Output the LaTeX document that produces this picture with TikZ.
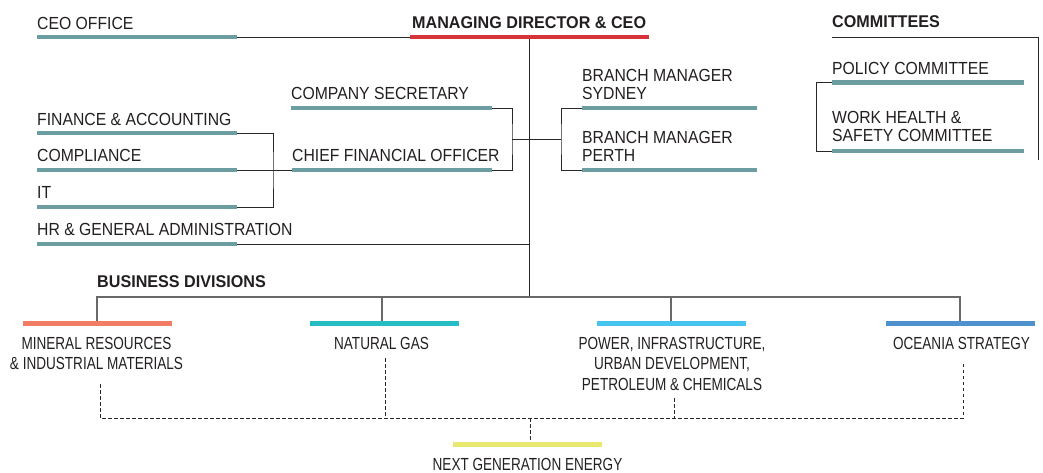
\documentclass[tikz,border=0pt]{standalone}
\usepackage{fontspec}
\setmainfont{Liberation Sans}
\newfontfamily\topf{Liberation Sans}[FakeStretch=0.9]
\newfontfamily\boldf{Liberation Sans Bold}[FakeStretch=0.95]
\newfontfamily\divf{Liberation Sans}[FakeStretch=0.775]
\definecolor{teal}{RGB}{108,157,160}
\definecolor{mdred}{RGB}{214,52,58}
\definecolor{salmon}{RGB}{243,124,101}
\definecolor{ngas}{RGB}{38,188,196}
\definecolor{power}{RGB}{68,196,238}
\definecolor{ocean}{RGB}{78,146,205}
\definecolor{yel}{RGB}{233,233,112}
\definecolor{txt}{RGB}{35,31,32}
\definecolor{linec}{RGB}{40,40,40}
\definecolor{divline}{RGB}{105,105,105}
\tikzset{
  bar/.style={line width=4.5pt, line cap=butt},
  conn/.style={line width=0.9pt, draw=linec},
  divconn/.style={line width=1.3pt, draw=divline},
  dashconn/.style={line width=0.9pt, draw=linec, dash pattern=on 3.5pt off 2.5pt},
  lbl/.style={inner sep=0pt, anchor=base west, text=txt, font=\topf\fontsize{17.5}{18}\selectfont},
  lblm/.style={inner sep=0pt, anchor=south west, text depth=0pt, align=left, text=txt, font=\topf\fontsize{17.5}{18}\selectfont},
  lblb/.style={inner sep=0pt, anchor=base west, text=txt, font=\boldf\fontsize{17}{18}\selectfont},
  divlbl/.style={inner sep=0pt, anchor=south, text depth=0pt, align=center, text=txt, font=\divf\fontsize{17.5}{20.5}\selectfont}
}
\begin{document}
\begin{tikzpicture}[x=1pt,y=-1pt]
\useasboundingbox (0,0) rectangle (1043,472);

% ---------- coordinates of bars ----------
\coordinate (ceoL) at (37,37);   \coordinate (ceoR) at (237,37);
\coordinate (mdL) at (410,37);   \coordinate (mdR) at (649,37);
\coordinate (mdT) at (529,37);
\coordinate (csL) at (291,108);  \coordinate (csR) at (492,108);
\coordinate (cfoL) at (292,170); \coordinate (cfoR) at (492,170);
\coordinate (finL) at (37,133);  \coordinate (finR) at (237,133);
\coordinate (compL) at (37,170); \coordinate (compR) at (237,170);
\coordinate (itL) at (37,207);   \coordinate (itR) at (237,207);
\coordinate (hrL) at (37,244);   \coordinate (hrR) at (237,244);
\coordinate (sydL) at (582,108); \coordinate (sydR) at (757,108);
\coordinate (perL) at (582,170); \coordinate (perR) at (757,170);
\coordinate (polL) at (832,82.5); \coordinate (polR) at (1024,82.5);
\coordinate (whsL) at (832,151); \coordinate (whsR) at (1024,151);
\coordinate (mrL) at (23,323.5);  \coordinate (mrR) at (172,323.5);
\coordinate (ngL) at (310,323.5); \coordinate (ngR) at (459,323.5);
\coordinate (pwL) at (597,323.5); \coordinate (pwR) at (746,323.5);
\coordinate (ocL) at (886,323.5); \coordinate (ocR) at (1035,323.5);
\coordinate (ngeL) at (453,444.5); \coordinate (ngeR) at (602,444.5);

% ---------- junction coordinates ----------
\coordinate (csJ) at (512,139);
\coordinate (brJ) at (561,139);
\coordinate (itJ) at (273,170);
\coordinate (hrJ) at (529,244);
\coordinate (bdJ) at (529,297);
\coordinate (cmL) at (832,37.5);
\coordinate (cmR) at (1038,37.5);
\coordinate (cmB) at (1038,160);
\coordinate (cbJ) at (816,116);
\coordinate (mrD) at (97,321.3);
\coordinate (ngD) at (382,321.3);
\coordinate (pwD) at (671,321.3);
\coordinate (ocD) at (960,321.3);
\coordinate (mrDash) at (100,384);
\coordinate (ngDash) at (385,358);
\coordinate (pwDash) at (674,398);
\coordinate (ocDash) at (963,362);
\coordinate (ngeJ) at (530,418);
\coordinate (ngeT) at (530,442.2);

% ---------- connectors ----------
\draw[conn] (ceoR) -- (mdL);
\draw[conn] (mdT) -- (bdJ);
\draw[conn] (csR) -| (csJ) |- (cfoR);
\draw[conn] (csJ) -- (brJ);
\draw[conn] (sydL) -| (brJ) |- (perL);
\draw[conn] (finR) -| (itJ) |- (itR);
\draw[conn] (compR) -- (cfoL);
\draw[conn] (hrR) -- (hrJ);
\draw[conn] (cmL) -- (cmR) -- (cmB);
\draw[conn] (polL) -| (cbJ) |- (whsL);
\draw[divconn] (mrD) -- (mrD |- bdJ) -- (ocD |- bdJ) -- (ocD);
\draw[divconn] (ngD) -- (ngD |- bdJ);
\draw[divconn] (pwD) -- (pwD |- bdJ);
\draw[dashconn] (mrDash) -- (mrDash |- ngeJ) -- (ocDash |- ngeJ) -- (ocDash);
\draw[dashconn] (ngDash) -- (ngDash |- ngeJ);
\draw[dashconn] (pwDash) -- (pwDash |- ngeJ);
\draw[dashconn] (ngeJ) -- (ngeT);

% ---------- bars ----------
\draw[bar, teal] (ceoL) -- (ceoR);
\draw[bar, mdred] (mdL) -- (mdR);
\draw[bar, teal] (csL) -- (csR);
\draw[bar, teal] (cfoL) -- (cfoR);
\draw[bar, teal] (finL) -- (finR);
\draw[bar, teal] (compL) -- (compR);
\draw[bar, teal] (itL) -- (itR);
\draw[bar, teal] (hrL) -- (hrR);
\draw[bar, teal] (sydL) -- (sydR);
\draw[bar, teal] (perL) -- (perR);
\draw[bar, teal] (polL) -- (polR);
\draw[bar, teal] (whsL) -- (whsR);
\draw[bar, salmon] (mrL) -- (mrR);
\draw[bar, ngas] (ngL) -- (ngR);
\draw[bar, power] (pwL) -- (pwR);
\draw[bar, ocean] (ocL) -- (ocR);
\draw[bar, yel] (ngeL) -- (ngeR);

% ---------- labels ----------
\node[lbl] (ceo) at (37,29) {CEO OFFICE};
\node[lblb] (md) at (412,28) {MANAGING DIRECTOR \& CEO};
\node[lblb] (cm) at (832,27) {COMMITTEES};
\node[lbl] (cs) at (291,99.5) {COMPANY SECRETARY};
\node[lbl] (fin) at (37,125) {FINANCE \& ACCOUNTING};
\node[lbl] (comp) at (37,161.5) {COMPLIANCE};
\node[lbl] (cfo) at (292,161.5) {CHIEF FINANCIAL OFFICER};
\node[lbl] (it) at (37,198.5) {IT};
\node[lbl] (hr) at (37,235.5) {HR \& GENERAL ADMINISTRATION};
\node[lblm] (syd) at (582,99.5) {BRANCH MANAGER\\SYDNEY};
\node[lblm] (per) at (582,161.5) {BRANCH MANAGER\\PERTH};
\node[lbl] (pol) at (832,74) {POLICY COMMITTEE};
\node[lblm] (whs) at (832,142) {WORK HEALTH \&\\SAFETY COMMITTEE};
\node[lblb] (bd) at (97,287) {BUSINESS DIVISIONS};
\node[divlbl] (mr) at (96.5,370) {MINERAL RESOURCES\\\& INDUSTRIAL MATERIALS};
\node[divlbl] (ng) at (381.5,349.3) {NATURAL GAS};
\node[divlbl] (pw) at (672,390.5) {POWER, INFRASTRUCTURE,\\URBAN DEVELOPMENT,\\PETROLEUM \& CHEMICALS};
\node[divlbl] (oc) at (961.5,349.3) {OCEANIA STRATEGY};
\node[divlbl] (nge) at (527.5,470.5) {NEXT GENERATION ENERGY};
\end{tikzpicture}
\end{document}
